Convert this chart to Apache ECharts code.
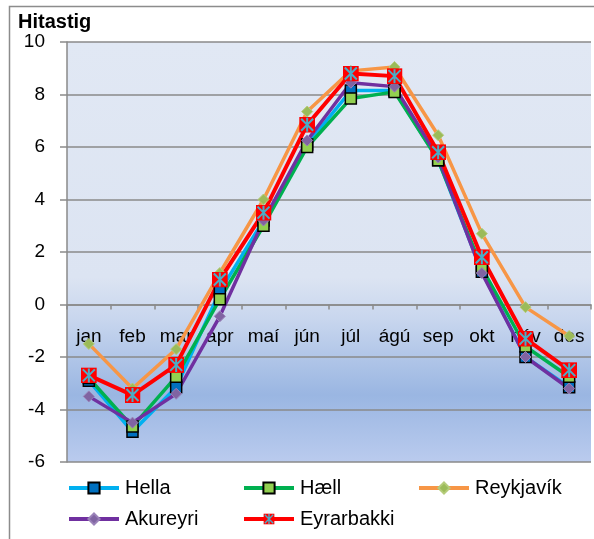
<!DOCTYPE html>
<html>
<head>
<meta charset="utf-8">
<script src="https://cdn.jsdelivr.net/npm/echarts@6/dist/echarts.min.js"></script>
<style>
  html,body{margin:0;padding:0;background:#fff}
  #chart{width:594px;height:539px}
</style>
</head>
<body>
<div id="chart"></div>
<script>
// mánuðir og meðalhiti (°C)
var months = ['jan','feb','mar','apr','maí','jún','júl','ágú','sep','okt','nóv','des']
var hella = [-2.9, -4.85, -3.15, 0.5, 3.2, 6.1, 8.15, 8.15, 5.5, 1.25, -2.0, -3.15]
var haell = [-2.8, -4.65, -2.75, 0.2, 3.0, 6.0, 7.85, 8.1, 5.5, 1.4, -1.6, -2.75]
var reykjavik = [-1.5, -3.2, -1.7, 1.2, 4.0, 7.35, 8.9, 9.05, 6.45, 2.7, -0.1, -1.2]
var akureyri = [-3.5, -4.5, -3.4, -0.45, 3.2, 6.25, 8.45, 8.3, 5.6, 1.2, -2.0, -3.2]
var eyrarbakki = [-2.7, -3.45, -2.3, 0.95, 3.5, 6.85, 8.8, 8.7, 5.8, 1.8, -1.3, -2.5]
var yTicks = [-6, 10, 2] // min, max, bil

var font = 'Liberation Sans, Arial, sans-serif'
var gridGray = '#8a8a8a'
var gridTop = 42, gridH = 420

// rauður ferningur með bláum stjörnukrossi (Eyrarbakki)
var starSvg = "<svg xmlns='http://www.w3.org/2000/svg' width='16' height='16'>" +
  "<rect width='16' height='16' fill='#FF0000'/>" +
  "<path d='M2 2L14 14M14 2L2 14M8 1V15' stroke='#4BACC6' stroke-width='2'/></svg>"
var starSymbol = 'image://data:image/svg+xml;charset=utf-8,' + encodeURIComponent(starSvg)

// x-ásinn liggur á núlllínunni
var zeroOffset = -gridH * (0 - yTicks[0]) / (yTicks[1] - yTicks[0])

function mkLegend(name, left, top){
  return {
    data:[name], left:left, top:top, orient:'horizontal',
    itemWidth:50, itemHeight:14, itemGap:0, padding:0,
    lineStyle:{width:4},
    textStyle:{fontFamily:font, fontSize:20, color:'#000', padding:[0,0,0,1]}
  }
}

var chart = echarts.init(document.getElementById('chart'))
chart.setOption({
  animation:false,
  textStyle:{fontFamily:font},
  title:{
    text:'Hitastig', left:18, top:12, padding:0,
    textStyle:{fontFamily:font, fontSize:20, fontWeight:'bold', color:'#000'}
  },
  graphic:[{
    type:'rect', z:-10, silent:true,
    shape:{x:9.5, y:6.5, width:700, height:700},
    style:{fill:'none', stroke:'#8c8c8c', lineWidth:1.5}
  }],
  grid:{
    left:67, top:gridTop, right:3, height:gridH, show:true, borderWidth:0,
    backgroundColor:{
      type:'linear', x:0, y:0, x2:0, y2:1,
      colorStops:[
        {offset:0, color:'#E1E8F4'},
        {offset:0.56, color:'#DCE4F2'},
        {offset:0.66, color:'#C8D6EE'},
        {offset:0.84, color:'#9AB6E2'},
        {offset:1, color:'#BACBEE'}
      ]
    }
  },
  legend:[
    mkLegend('Hella', 67, 478),
    mkLegend('Hæll', 242, 478),
    mkLegend('Reykjavík', 417, 478),
    mkLegend('Akureyri', 67, 509),
    mkLegend('Eyrarbakki', 242, 509)
  ],
  xAxis:{
    type:'category', data:months, boundaryGap:true, position:'bottom', offset:zeroOffset,
    axisLine:{onZero:false, lineStyle:{color:gridGray, width:1.5}},
    axisTick:{show:true, length:5, alignWithLabel:false, lineStyle:{color:gridGray, width:1.5}},
    axisLabel:{margin:23, interval:0, fontFamily:font, fontSize:19, color:'#000'},
    splitLine:{show:false}
  },
  yAxis:{
    type:'value', min:yTicks[0], max:yTicks[1], interval:yTicks[2],
    axisLine:{show:true, lineStyle:{color:gridGray, width:1.5}},
    axisTick:{show:true, length:7, lineStyle:{color:gridGray, width:1.5}},
    axisLabel:{margin:22, fontFamily:font, fontSize:19, color:'#000'},
    splitLine:{show:true, lineStyle:{color:gridGray, width:1.5}}
  },
  series:[
    {name:'Hella', type:'line', data:hella, symbol:'rect', symbolSize:11,
      lineStyle:{color:'#00B0F0', width:3.5},
      itemStyle:{color:'#0070C0', borderColor:'#000', borderWidth:1.5}},
    {name:'Hæll', type:'line', data:haell, symbol:'rect', symbolSize:11,
      lineStyle:{color:'#00B050', width:3.5},
      itemStyle:{color:'#92D050', borderColor:'#000', borderWidth:1.5}},
    {name:'Reykjavík', type:'line', data:reykjavik, symbol:'diamond', symbolSize:11,
      lineStyle:{color:'#F79646', width:3.5},
      itemStyle:{color:'#9BBB59', borderColor:'#B5CC7A', borderWidth:1}},
    {name:'Akureyri', type:'line', data:akureyri, symbol:'diamond', symbolSize:11,
      lineStyle:{color:'#7030A0', width:3.5},
      itemStyle:{color:'#8064A2', borderColor:'#9A82B8', borderWidth:1}},
    {name:'Eyrarbakki', type:'line', data:eyrarbakki, symbol:starSymbol, symbolSize:16,
      lineStyle:{color:'#FF0000', width:4},
      itemStyle:{color:'#FF0000'}}
  ]
})
</script>
</body>
</html>
